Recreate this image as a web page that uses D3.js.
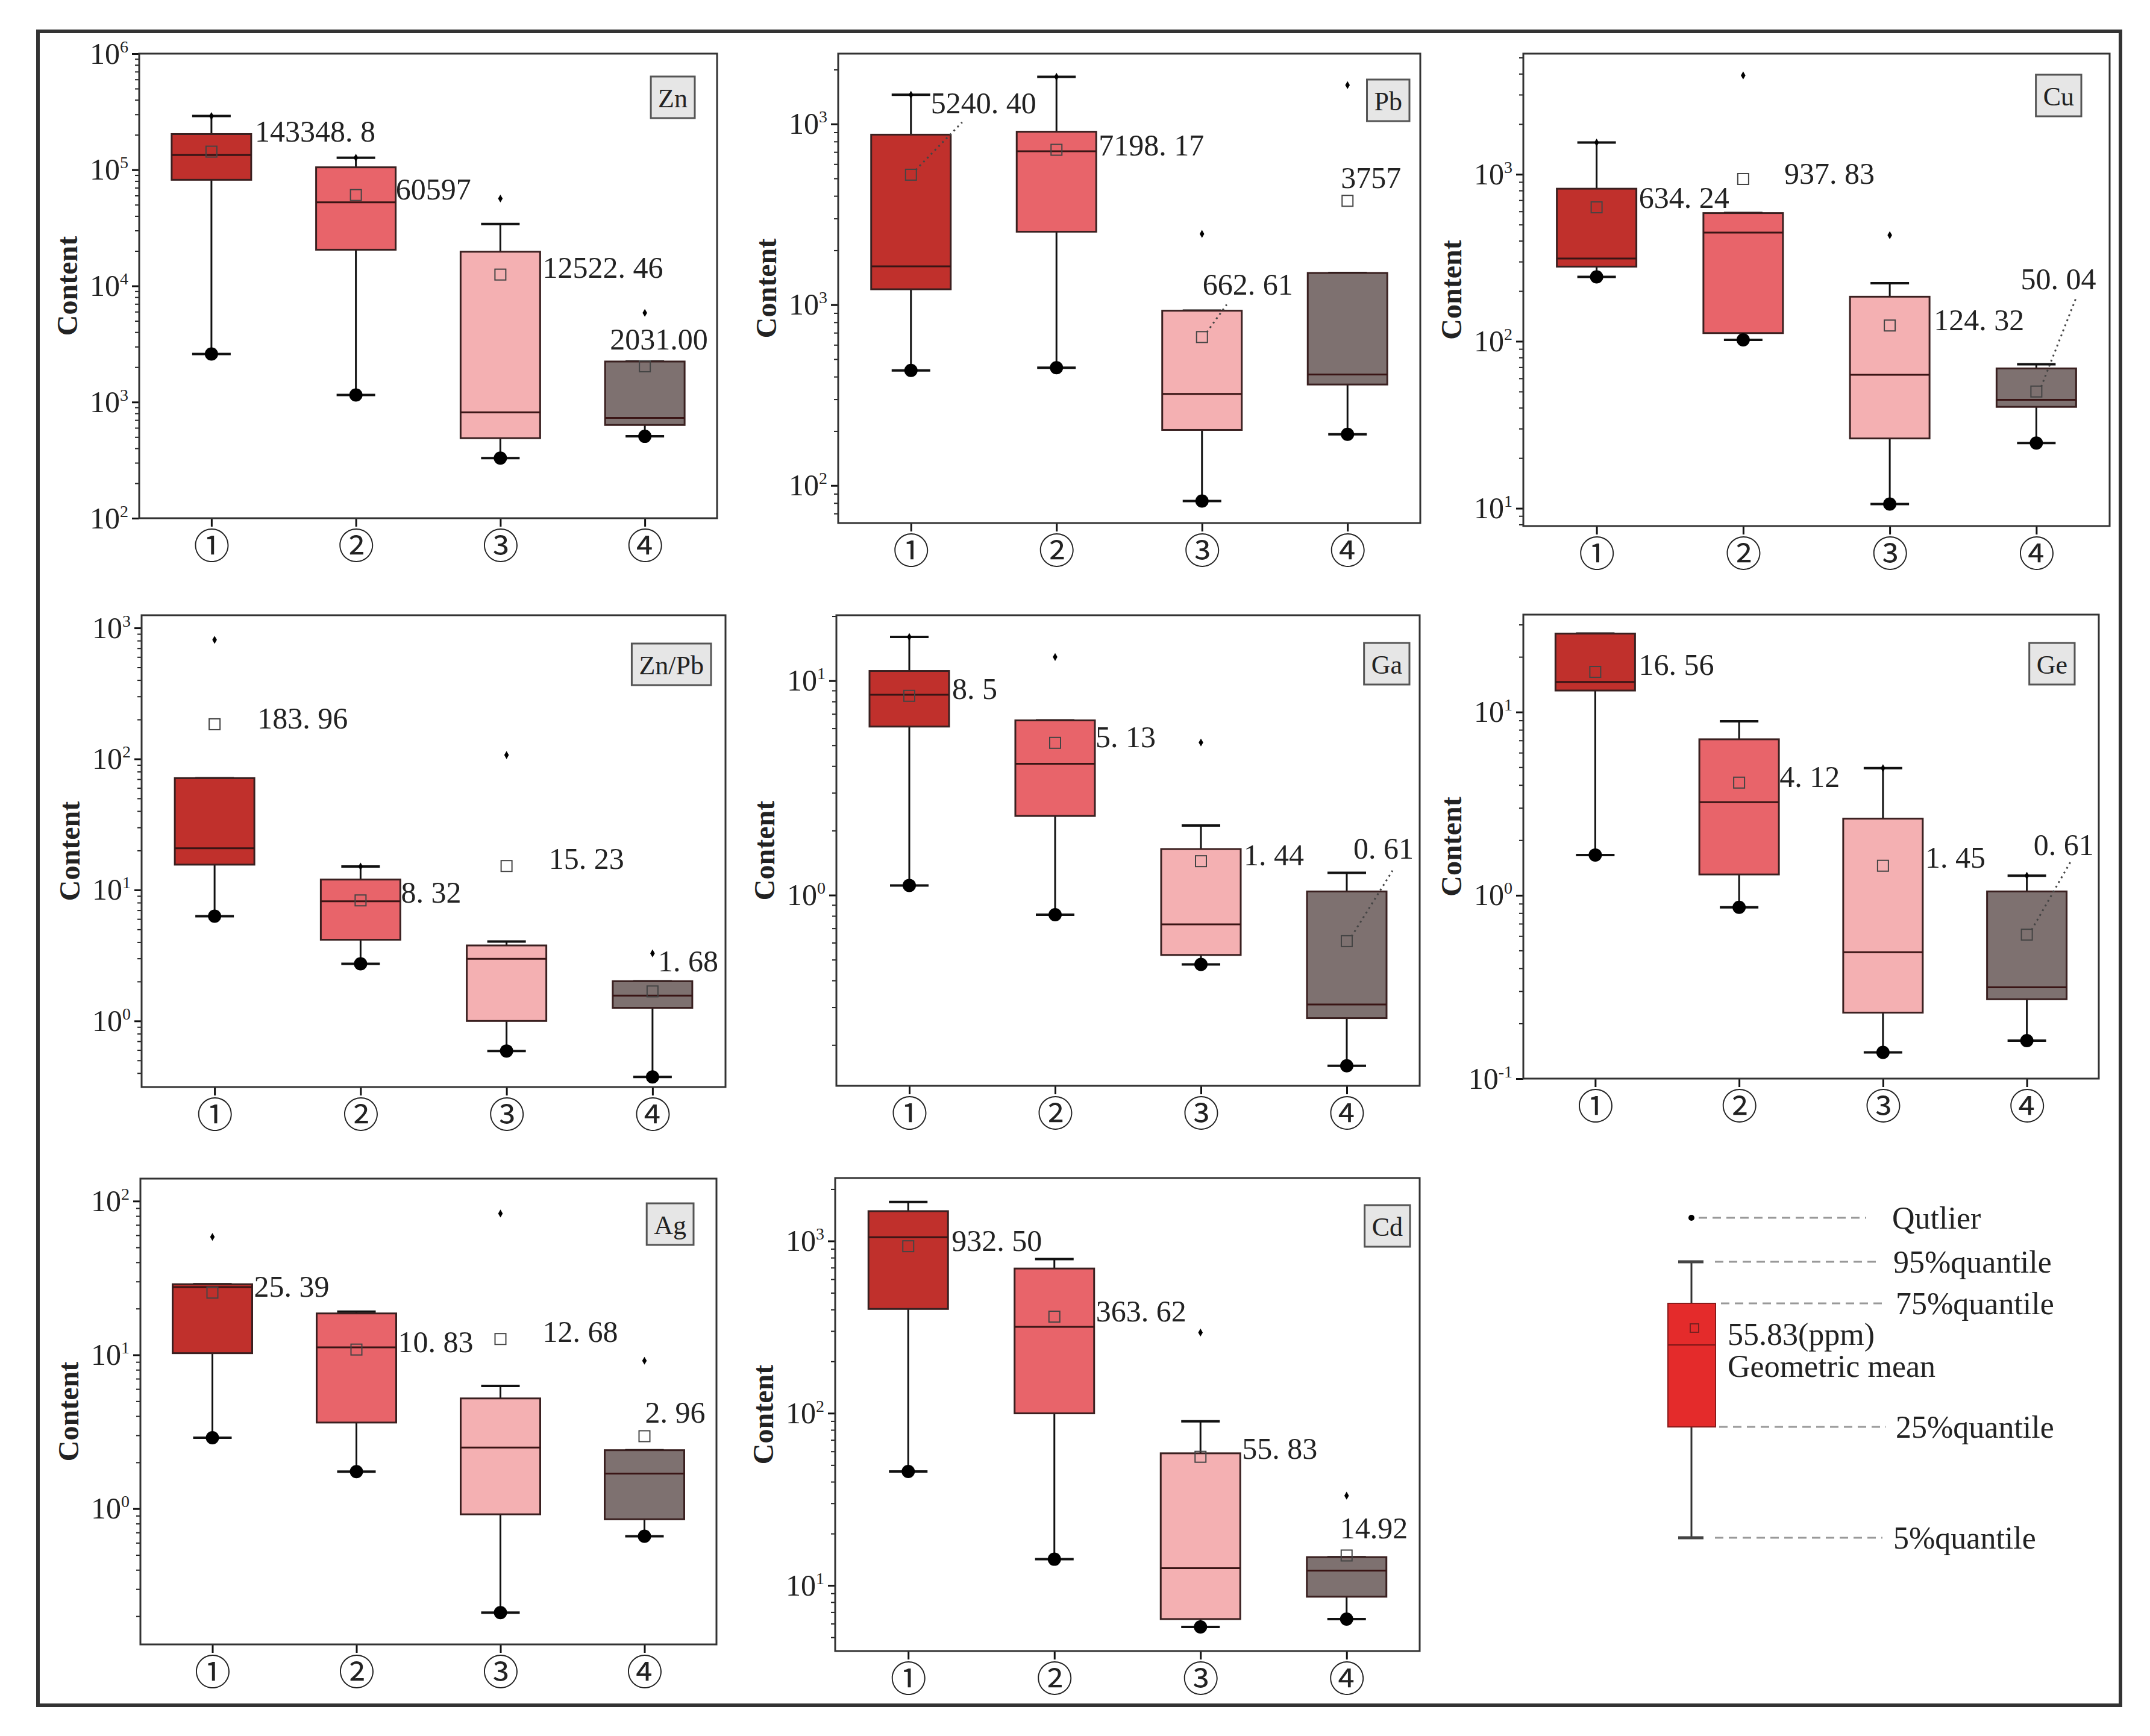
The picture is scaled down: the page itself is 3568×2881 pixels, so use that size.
<!DOCTYPE html>
<html>
<head>
<meta charset="utf-8">
<script src="https://cdn.jsdelivr.net/npm/d3@7"></script>
<style>
body { margin: 0; background: #fff; }
</style>
</head>
<body>
<svg id="chart"></svg>
<script>
const groups = ["①", "②", "③", "④"];
const elements = ["Zn", "Pb", "Cu", "Zn/Pb", "Ga", "Ge", "Ag", "Cd"];

// y ranges of each panel (log axes)
const yDomains = [[100, 1e6], [62, 24500], [7.83, 5280], [0.313, 1250],
                  [0.129, 20.2], [0.1, 34], [0.131, 140], [4.16, 2320]];
// exponents as printed on the tick labels (the Pb panel prints 10^3 twice)
const tickExps = [["2", "3", "4", "5", "6"], ["2", "3", "3"], ["1", "2", "3"], ["0", "1", "2", "3"],
                  ["0", "1"], ["-1", "0", "1"], ["0", "1", "2"], ["1", "2", "3"]];

// box statistics, one row per element, one value per group
const p5 = [[2590, 1150, 329, 507], [433, 448, 82, 192], [243, 102, 10.6, 24.6], [6.3, 2.73, 0.59, 0.374],
            [1.11, 0.81, 0.475, 0.16], [1.66, 0.86, 0.139, 0.161], [2.89, 1.74, 0.211, 0.662], [45.9, 14.2, 5.74, 6.38]];
const q25 = [[82000, 20500, 489, 635], [1218, 2535, 203, 362], [280, 112, 26.2, 40.5], [15.6, 4.17, 1.0, 1.26],
             [6.11, 2.34, 0.526, 0.267], [13.1, 1.30, 0.229, 0.271], [10.26, 3.63, 0.919, 0.853], [403, 99.8, 6.38, 8.6]];
const median = [[134000, 52500, 815, 730], [1630, 7060, 321, 411], [313, 448, 63, 44.6], [20.8, 8.2, 2.98, 1.56],
                [8.6, 4.10, 0.731, 0.309], [14.6, 3.22, 0.489, 0.315], [27.6, 11.2, 2.5, 1.69], [1052, 317, 12.6, 12.2]];
const q75 = [[203000, 105000, 19700, 2234], [8730, 9060, 927, 1499], [820, 586, 185, 68.8], [71.3, 12.0, 3.77, 2.01],
             [11.1, 6.53, 1.64, 1.04], [26.8, 7.10, 2.62, 1.05], [28.8, 18.6, 5.21, 2.40], [1490, 692, 58.5, 14.6]];
const p95 = [[290000, 127000, 34100, 2234], [14500, 18240, 927, 1499], [1549, 586, 223, 72.8], [71.3, 15.1, 4.04, 2.01],
             [16.0, 6.53, 2.11, 1.27], [26.8, 8.9, 4.94, 1.28], [28.8, 19.1, 6.28, 2.40], [1683, 785, 89.8, 14.6]];
const outliers = [[290000, 127000, 56500, 5860], [14500, 18240, 2465, 16400], [1549, 3910, 432, null], [811, 15.1, 107, 3.28],
                  [16.0, 12.9, 5.15, null], [null, null, 4.94, 1.28], [58.5, null, 83, 9.16], [null, null, 294, 33.2]];
const geoMean = [[143348.8, 60597, 12522.46, 2031.00], [5240.40, 7198.17, 662.61, 3757], [634.24, 937.83, 124.32, 50.04],
                 [183.96, 8.32, 15.23, 1.68], [8.5, 5.13, 1.44, 0.61], [16.56, 4.12, 1.45, 0.61],
                 [25.39, 10.83, 12.68, 2.96], [932.50, 363.62, 55.83, 14.92]];
const meanLabels = [["143348. 8", "60597", "12522. 46", "2031.00"], ["5240. 40", "7198. 17", "662. 61", "3757"],
                    ["634. 24", "937. 83", "124. 32", "50. 04"], ["183. 96", "8. 32", "15. 23", "1. 68"],
                    ["8. 5", "5. 13", "1. 44", "0. 61"], ["16. 56", "4. 12", "1. 45", "0. 61"],
                    ["25. 39", "10. 83", "12. 68", "2. 96"], ["932. 50", "363. 62", "55. 83", "14.92"]];

const legendLabels = ["Qutlier", "95%quantile", "75%quantile", "25%quantile", "5%quantile"];

// ---- layout ----
const W = 3568, H = 2881;
const panelBoxes = [[231, 89, 1190, 860], [1391, 89, 2357, 868], [2528, 89, 3501, 873],
                    [235, 1021, 1204, 1804], [1388, 1021, 2356, 1802], [2528, 1020, 3483, 1790],
                    [233, 1956, 1189, 2729], [1386, 1955, 2356, 2740]];
const tagGap = [[37, 38], [18, 43], [47, 35], [24, 47], [17, 46], [40, 47], [38, 41], [16, 45]];
// label offset from the mean marker: [dx, dy, leaderX, leaderY]
const labelPos = [
  [[72, -17], [66, 7], [70, 5], [-58, -28]],
  [[33, -102, 85, -87], [70, 9], [1, -70, 41, -54], [-11, -21]],
  [[70, 1], [68, 8], [73, 8], [-26, -170, 67, -158]],
  [[71, 7], [67, 4], [70, 5], [9, -33]],
  [[71, 5], [67, 7], [71, 7], [11, -137, 76, -117]],
  [[72, 5], [67, 7], [70, 3], [11, -132, 72, -120]],
  [[69, 7], [69, 4], [70, 5], [1, -22]],
  [[72, 8], [69, 8], [69, 3], [-11, -28]]
];
const boxColors = ["#c0302c", "#e8646a", "#f4b0b2", "#7e7170"];
const serif = "'Liberation Serif', 'Times New Roman', serif";
const boxW = 132, capW = 64;

const svg = d3.select("#chart").attr("width", W).attr("height", H);

svg.append("rect")
    .attr("x", 63).attr("y", 52)
    .attr("width", 3456).attr("height", 2778)
    .attr("fill", "none")
    .attr("stroke", "#333")
    .attr("stroke-width", 6);

elements.forEach((name, k) => {
    const [x0, y0, x1, y1] = panelBoxes[k];
    const dom = yDomains[k];
    const g = svg.append("g");

    const x = d3.scalePoint().domain(groups).range([x0, x1]).padding(0.5);
    const y = d3.scaleLog().domain(dom).range([y1, y0]);

    const lo = Math.ceil(Math.log10(dom[0]) - 1e-9);
    const hi = Math.floor(Math.log10(dom[1]) + 1e-9);
    const majors = d3.range(lo, hi + 1).map(e => Math.pow(10, e));
    const minors = [];
    for (let e = lo - 1; e <= hi; e++) {
        for (let m = 2; m <= 9; m++) {
            const v = m * Math.pow(10, e);
            if (v >= dom[0] && v <= dom[1]) minors.push(v);
        }
    }

    // minor ticks
    g.append("g")
        .attr("transform", `translate(${x0},0)`)
        .call(d3.axisLeft(y).tickValues(minors).tickSize(7).tickSizeOuter(0).tickFormat(""))
        .call(s => s.select(".domain").remove())
        .call(s => s.selectAll("line").attr("stroke", "#222").attr("stroke-width", 2));

    // major ticks with 10^n labels
    const yAxis = g.append("g")
        .attr("transform", `translate(${x0},0)`)
        .call(d3.axisLeft(y).tickValues(majors).tickSize(12).tickPadding(6).tickSizeOuter(0).tickFormat(() => "10"));
    yAxis.select(".domain").remove();
    yAxis.selectAll("line").attr("stroke", "#111").attr("stroke-width", 3);
    yAxis.selectAll(".tick text")
        .attr("font-family", serif)
        .attr("font-size", 50)
        .attr("fill", "#222")
        .append("tspan")
        .attr("font-size", 28)
        .attr("dy", -19)
        .text((d, i) => tickExps[k][i]);

    // x axis
    const xAxis = g.append("g")
        .attr("transform", `translate(0,${y1})`)
        .call(d3.axisBottom(x).tickSize(14).tickSizeOuter(0));
    xAxis.select(".domain").remove();
    xAxis.selectAll("line").attr("stroke", "#111").attr("stroke-width", 3);
    xAxis.selectAll(".tick text")
        .attr("font-family", "'Noto Sans CJK JP', 'DejaVu Sans', sans-serif")
        .attr("font-size", 60)
        .attr("fill", "#222")
        .attr("y", 46)
        .attr("dy", "0.36em");

    // plot frame
    g.append("rect")
        .attr("x", x0).attr("y", y0)
        .attr("width", x1 - x0).attr("height", y1 - y0)
        .attr("fill", "none")
        .attr("stroke", "#333")
        .attr("stroke-width", 3);

    g.append("text")
        .attr("transform", `translate(${x0 - 120},${(y0 + y1) / 2}) rotate(-90)`)
        .attr("text-anchor", "middle")
        .attr("dominant-baseline", "central")
        .attr("font-family", serif)
        .attr("font-weight", "bold")
        .attr("font-size", 48)
        .attr("fill", "#222")
        .text("Content");

    // element tag
    const tag = g.append("g");
    const tagText = tag.append("text")
        .attr("font-family", serif)
        .attr("font-size", 44)
        .attr("fill", "#222")
        .attr("text-anchor", "middle")
        .attr("dominant-baseline", "central")
        .text(name);
    const tw = tagText.node().getComputedTextLength() + 24;
    const tx = x1 - tagGap[k][0] - tw, ty = y0 + tagGap[k][1];
    tag.insert("rect", "text")
        .attr("x", tx).attr("y", ty)
        .attr("width", tw).attr("height", 69)
        .attr("fill", "#e6e6e6")
        .attr("stroke", "#555")
        .attr("stroke-width", 3);
    tagText.attr("x", tx + tw / 2).attr("y", ty + 36);

    // boxes
    groups.forEach((grp, i) => {
        const cx = x(grp);
        const b = g.append("g");

        b.append("line")
            .attr("x1", cx).attr("x2", cx)
            .attr("y1", y(p95[k][i])).attr("y2", y(p5[k][i]))
            .attr("stroke", "#111").attr("stroke-width", 3);
        [p95[k][i], p5[k][i]].forEach(v => {
            b.append("line")
                .attr("x1", cx - capW / 2).attr("x2", cx + capW / 2)
                .attr("y1", y(v)).attr("y2", y(v))
                .attr("stroke", "#111").attr("stroke-width", 4);
        });

        b.append("rect")
            .attr("x", cx - boxW / 2)
            .attr("y", y(q75[k][i]))
            .attr("width", boxW)
            .attr("height", y(q25[k][i]) - y(q75[k][i]))
            .attr("fill", boxColors[i])
            .attr("stroke", "#3a2020")
            .attr("stroke-width", 3);

        b.append("line")
            .attr("x1", cx - boxW / 2).attr("x2", cx + boxW / 2)
            .attr("y1", y(median[k][i])).attr("y2", y(median[k][i]))
            .attr("stroke", "#3a1515").attr("stroke-width", 3);

        b.append("circle")
            .attr("cx", cx).attr("cy", y(p5[k][i]))
            .attr("r", 11)
            .attr("fill", "#000");

        if (outliers[k][i] != null) {
            b.append("path")
                .attr("d", d3.symbol(d3.symbolDiamond, 50)())
                .attr("transform", `translate(${cx},${y(outliers[k][i])})`)
                .attr("fill", "#000");
        }

        const my = y(geoMean[k][i]);
        const lp = labelPos[k][i];
        if (lp.length > 2) {
            b.append("line")
                .attr("x1", cx + 8).attr("y1", my - 8)
                .attr("x2", cx + lp[2]).attr("y2", my + lp[3])
                .attr("stroke", "#444")
                .attr("stroke-width", 3)
                .attr("stroke-dasharray", "3,6");
        }
        b.append("rect")
            .attr("x", cx - 9).attr("y", my - 9)
            .attr("width", 18).attr("height", 18)
            .attr("fill", "none")
            .attr("stroke", "#444")
            .attr("stroke-width", 2);

        b.append("text")
            .attr("x", cx + lp[0])
            .attr("y", my + lp[1])
            .attr("font-family", serif)
            .attr("font-size", 50)
            .attr("fill", "#222")
            .text(meanLabels[k][i]);
    });
});

// ---- legend ----
const lg = svg.append("g");
const lx = 2807;
const legendRows = [[2021, 2819, 3097, 3140], [2094, 2846, 3119, 3142], [2163, 2856, 3130, 3146],
                    [2368, 2853, 3130, 3146], [2552, 2846, 3124, 3142]];
lg.append("line")
    .attr("x1", lx).attr("x2", lx).attr("y1", 2094).attr("y2", 2552)
    .attr("stroke", "#333").attr("stroke-width", 3);
[2094, 2552].forEach(v => {
    lg.append("line")
        .attr("x1", lx - 22).attr("x2", lx + 20).attr("y1", v).attr("y2", v)
        .attr("stroke", "#444").attr("stroke-width", 5);
});
lg.append("rect")
    .attr("x", 2768).attr("y", 2163).attr("width", 79).attr("height", 205)
    .attr("fill", "#e42b2b").attr("stroke", "#8a1a1a").attr("stroke-width", 2);
lg.append("line")
    .attr("x1", 2768).attr("x2", 2847).attr("y1", 2232).attr("y2", 2232)
    .attr("stroke", "#7a1515").attr("stroke-width", 2);
lg.append("rect")
    .attr("x", 2805).attr("y", 2197).attr("width", 14).attr("height", 14)
    .attr("fill", "none").attr("stroke", "#7a2020").attr("stroke-width", 2);
lg.append("circle").attr("cx", lx).attr("cy", 2021).attr("r", 5).attr("fill", "#000");

legendRows.forEach((r, i) => {
    lg.append("line")
        .attr("x1", r[1]).attr("x2", r[2]).attr("y1", r[0]).attr("y2", r[0])
        .attr("stroke", "#999").attr("stroke-width", 3)
        .attr("stroke-dasharray", "14,9");
    lg.append("text")
        .attr("x", r[3]).attr("y", r[0])
        .attr("dominant-baseline", "central")
        .attr("font-family", serif)
        .attr("font-size", 52)
        .attr("fill", "#222")
        .text(legendLabels[i]);
});
lg.append("text")
    .attr("x", 2867).attr("y", 2214)
    .attr("dominant-baseline", "central")
    .attr("font-family", serif).attr("font-size", 52).attr("fill", "#222")
    .text("55.83(ppm)");
lg.append("text")
    .attr("x", 2867).attr("y", 2267)
    .attr("dominant-baseline", "central")
    .attr("font-family", serif).attr("font-size", 52).attr("fill", "#222")
    .text("Geometric mean");
</script>
</body>
</html>
